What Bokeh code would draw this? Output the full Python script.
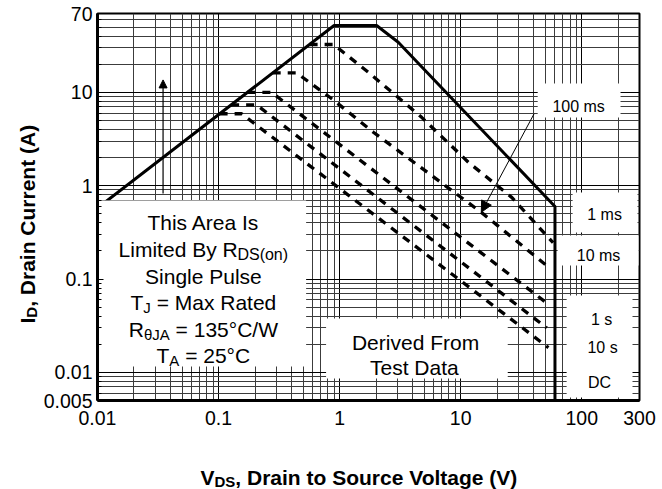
import math
from bokeh.plotting import figure
from bokeh.layouts import column, row
from bokeh.models import Range1d, FixedTicker, Label, Arrow, NormalHead
from bokeh.embed import file_html
from bokeh.resources import INLINE

# ---------------- data ----------------
x_ticks = [0.01, 0.1, 1, 10, 100, 300]
x_tick_labels = ["0.01", "0.1", "1", "10", "100", "300"]
y_ticks = [0.005, 0.01, 0.1, 1, 10, 70]
y_tick_labels = ["0.005", "0.01", "0.1", "1", "10", "70"]

# solid boundary (RDS(on) limit, current limit, thermal, BVDSS)
soa_v = [0.01, 0.9, 2.02, 3.05, 60.1, 60.1]
soa_i = [0.578, 52.0, 52.0, 34.4, 0.60, 0.005]

# dashed pulse curves
pulse1_v = [0.565, 0.89, 1.73, 4.76, 11.6, 26.4, 58.0]
pulse1_i = [32.6, 32.6, 16.4, 5.4, 1.78, 0.75, 0.245]
pulse2_v = [0.28, 0.44, 0.887, 1.9, 14.9, 51.4]
pulse2_i = [16.2, 16.2, 8.3, 3.74, 0.515, 0.139]
pulse3_v = [0.173, 0.274, 54.7]
pulse3_i = [10.0, 10.0, 0.052]
pulse4_v = [0.127, 0.206, 51.4]
pulse4_i = [7.35, 7.35, 0.030]
pulse5_v = [0.102, 0.155, 53.1]
pulse5_i = [5.9, 5.9, 0.0184]

curve_labels = ["100 ms", "1 ms", "10 ms", "1 s", "10 s", "DC"]

# 100 ms pointer (from label to curve), and the upward arrow
pointer_v = [40.4, 14.8]
pointer_i = [5.9, 0.52]
up_arrow_v = [0.0348, 0.0348]
up_arrow_i = [0.825, 13.6]

# ---------------- layout (picture pixels) ----------------
FONT = "Liberation Sans"
TOTAL_W, TOTAL_H = 662, 489
YT_W = 40                 # strip holding the y title
MAIN_W = TOTAL_W - YT_W
MAIN_H = 448
XT_H = TOTAL_H - MAIN_H   # strip holding the x title
FRAME_L, FRAME_T, FW, FH = 96, 13, 543, 387
FRAME_R, FRAME_B = FRAME_L + FW, FRAME_T + FH
XMIN, XMAX = 0.01, 300
YMIN, YMAX = 0.005, 70
PXX = FW / math.log10(XMAX / XMIN)
PXY = FH / math.log10(YMAX / YMIN)


def dx(px):   # picture px -> data x
    return 10 ** (math.log10(XMIN) + (px - FRAME_L) / PXX)


def dy(py):   # picture py -> data y
    return 10 ** (math.log10(YMAX) - (py - FRAME_T) / PXY)


REG = {' ': 278, 'T': 611, 'h': 556, 'i': 222, 's': 500, 'A': 667, 'r': 333, 'e': 556,
       'a': 556, 'I': 278, 'L': 556, 'm': 833, 't': 278, 'd': 556, 'B': 667, 'y': 500,
       'R': 722, 'D': 722, 'S': 667, '(': 333, ')': 333, 'o': 556, 'n': 556, 'g': 556,
       'l': 222, 'P': 667, 'u': 556, 'J': 500, '=': 584, 'M': 833, 'x': 500, 'θ': 556,
       '°': 400, 'C': 722, '/': 278, 'W': 944, 'F': 611, 'v': 500, 'c': 500, ',': 278}
BOLD = {' ': 278, 'I': 278, 'D': 722, ',': 278, 'r': 389, 'a': 556, 'i': 278, 'n': 611,
        'C': 722, 'u': 611, 'e': 556, 't': 333, '(': 333, 'A': 722, ')': 333, 'V': 667,
        'S': 667, 'o': 611, 'g': 611, 'l': 278, 'c': 556}
for d in "0123456789":
    REG[d] = 556


def tw(txt, size, bold=False):
    tab = BOLD if bold else REG
    return sum(tab.get(c, 556) for c in txt) * size / 1000.0


# ---------------- main figure ----------------
p = figure(width=MAIN_W, height=MAIN_H, x_axis_type="log", y_axis_type="log",
           x_range=Range1d(XMIN, XMAX), y_range=Range1d(YMIN, YMAX),
           output_backend="svg", toolbar_location=None,
           min_border_left=FRAME_L - YT_W, min_border_top=FRAME_T,
           min_border_right=TOTAL_W - FRAME_R, min_border_bottom=MAIN_H - FRAME_B)
p.background_fill_color = "white"
p.border_fill_color = "white"
p.outline_line_color = "black"
p.outline_line_width = 2

# grid
x_dec = [t for t in x_ticks if abs(math.log10(t) - round(math.log10(t))) < 1e-9 and t < XMAX]
y_dec = [t for t in y_ticks if abs(math.log10(t) - round(math.log10(t))) < 1e-9]
x_minor = [m * 10 ** e for e in range(-2, 3) for m in range(2, 10) if m * 10 ** e < XMAX]
y_minor = [m * 10 ** e for e in range(-3, 2) for m in range(2, 10) if YMIN <= m * 10 ** e < YMAX]

p.xgrid.ticker = FixedTicker(ticks=x_dec, minor_ticks=x_minor)
p.ygrid.ticker = FixedTicker(ticks=y_dec, minor_ticks=y_minor)
for g in (p.xgrid, p.ygrid):
    g.grid_line_color = "black"
    g.grid_line_width = 1
    g.minor_grid_line_color = "#3c3c3c"
    g.minor_grid_line_width = 1

# axes
p.xaxis.ticker = FixedTicker(ticks=x_ticks, minor_ticks=x_minor)
p.yaxis.ticker = FixedTicker(ticks=y_ticks, minor_ticks=y_minor)
p.xaxis.major_label_overrides = {v: s for v, s in zip(x_ticks, x_tick_labels)}
p.yaxis.major_label_overrides = {v: s for v, s in zip(y_ticks, y_tick_labels)}
for ax in (p.xaxis, p.yaxis):
    ax.axis_line_width = 3
    ax.axis_line_color = "black"
    ax.major_label_text_font = FONT
    ax.major_label_text_font_size = "19.5px"
    ax.major_label_text_color = "black"
    ax.major_tick_out = 0
    ax.minor_tick_out = 0
p.xaxis.major_tick_in = 0
p.xaxis.minor_tick_in = 0
p.yaxis.major_tick_in = 6
p.yaxis.minor_tick_in = 4
p.yaxis.major_tick_line_color = "black"
p.yaxis.minor_tick_line_color = "black"
p.xaxis.major_label_standoff = 10
p.yaxis.major_label_standoff = 5

# curves
p.line(soa_v, soa_i, line_color="black", line_width=3)
for vv, ii in [(pulse1_v, pulse1_i), (pulse2_v, pulse2_i), (pulse3_v, pulse3_i),
               (pulse4_v, pulse4_i), (pulse5_v, pulse5_i)]:
    p.line(vv, ii, line_color="black", line_width=3.3, line_dash="8 7")

# white label boxes (picture px: left, right, top, bottom)
boxes = [(97, 305, 200, 366), (325, 507, 318, 378), (537, 620, 83, 117),
         (572, 637, 192, 232), (557, 638, 235, 265), (566, 632, 295, 397)]
p.quad(left=[dx(b[0]) for b in boxes], right=[dx(b[1]) for b in boxes],
       top=[dy(b[2]) for b in boxes], bottom=[dy(b[3]) for b in boxes],
       fill_color="white", line_color=None)

# arrows
p.add_layout(Arrow(end=NormalHead(size=11, fill_color="black", line_color="black", line_width=1),
                   x_start=pointer_v[0], y_start=pointer_i[0],
                   x_end=pointer_v[1], y_end=pointer_i[1],
                   line_color="black", line_width=1))
p.add_layout(Arrow(end=NormalHead(size=8, fill_color="black", line_color="black", line_width=1),
                   x_start=up_arrow_v[0], y_start=up_arrow_i[0],
                   x_end=up_arrow_v[1], y_end=up_arrow_i[1],
                   line_color="black", line_width=1.2))


# ---------------- strips for the axis titles ----------------
def strip(w, h, xr, yr, bl, br, bt, bb):
    f = figure(width=w, height=h, x_range=Range1d(*xr), y_range=Range1d(*yr),
               output_backend="svg", toolbar_location=None,
               x_axis_location=None, y_axis_location=None,
               min_border_left=bl, min_border_right=br,
               min_border_top=bt, min_border_bottom=bb)
    f.outline_line_color = None
    f.xgrid.visible = False
    f.ygrid.visible = False
    f.background_fill_color = "white"
    f.border_fill_color = "white"
    return f


# y strip: frame spans the same rows as the main frame; data = picture px
yfig = strip(YT_W, MAIN_H, (0, YT_W), (FRAME_B, FRAME_T), 0, 0, FRAME_T, MAIN_H - FRAME_B)
# x strip: frame spans the same columns as the main frame; data = picture px
xfig = strip(TOTAL_W, XT_H, (FRAME_L, FRAME_R), (TOTAL_H, MAIN_H),
             FRAME_L, TOTAL_W - FRAME_R, 0, 0)


def lab(fig, x, y, txt, size, bold=False, align="left", angle=0.0):
    fig.add_layout(Label(x=x, y=y, text=txt, text_font=FONT,
                         text_font_size=f"{size}px",
                         text_font_style="bold" if bold else "normal",
                         text_align=align, text_baseline="alphabetic",
                         text_color="black", angle=angle))


def main_lab(xpx, ypx, txt, size, bold=False, align="left"):
    lab(p, dx(xpx), dy(ypx), txt, size, bold, align)


def rich(segs, cx, base, bold=False):
    total = sum(tw(t, s, bold) for t, s, _ in segs)
    cur = cx - total / 2
    for t, s, sh in segs:
        lead = len(t) - len(t.lstrip(" "))
        main_lab(cur + tw(" " * lead, s, bold), base + sh, t.lstrip(" "), s, bold)
        cur += tw(t, s, bold)


# box 1
rich([("This Area Is", 21, 0)], 202, 221.7)
rich([("Limited By R", 21, 0), ("DS(on)", 16, 5)], 202, 249.3)
rich([("Single Pulse", 21, 0)], 202, 276)
rich([("T", 21, 0), ("J", 15, 5), (" = Max Rated", 21, 0)], 202, 301.7)
rich([("R", 21, 0), ("θJA", 15, 5), (" = 135°C/W", 21, 0)], 202, 329.3)
rich([("T", 21, 0), ("A", 15, 5), (" = 25°C", 21, 0)], 202, 355)

# box 2
rich([("Derived From", 21, 0)], 414.5, 341.7)
rich([("Test Data", 21, 0)], 414.5, 366.7)

# curve labels
label_pos = [(578, 106), (604, 214), (598, 255), (601, 319), (602, 347), (599, 381.7)]
for t, (lx, ly) in zip(curve_labels, label_pos):
    main_lab(lx, ly, t, 16, align="center")

# x axis title
cur = 200
for t, s, sh in [("V", 21, 0), ("DS", 15, 3.5), (", Drain to Source Voltage (V)", 21, 0)]:
    lab(xfig, cur, 477 + sh, t, s, bold=True)
    cur += tw(t, s, True)

# y axis title (rotated, reading upward)
cur = 323
for t, s, sh in [("I", 21, 0), ("D", 15, 4), (", Drain Current (A)", 21, 0)]:
    lab(yfig, 27 + sh, cur, t, s, bold=True, angle=math.pi / 2)
    cur -= tw(t, s, True)

layout = column(row(yfig, p, spacing=0), xfig, spacing=0)
open("out.html", "w").write(file_html(layout, INLINE))
